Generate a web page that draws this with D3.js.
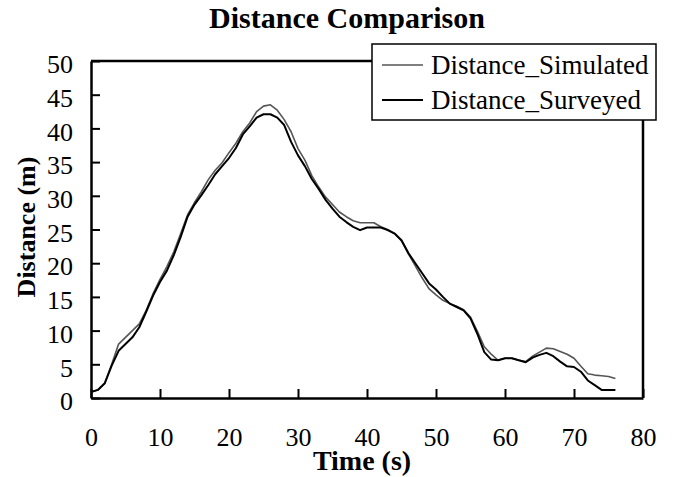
<!DOCTYPE html>
<html>
<head>
<meta charset="utf-8">
<script src="https://cdn.jsdelivr.net/npm/d3@7"></script>
<style>
    body { margin: 0; background: #fff; }
    text { font-family: "Liberation Serif", "Times New Roman", serif; fill: #000; }
</style>
</head>
<body>
<div id="chart"></div>
<script>
// Time in seconds, one sample per second
const times = d3.range(0, 77);

const simulated = [
    0.9, 1.2, 2.2, 5.0, 8.0, 9.0, 10.0, 11.0, 13.0, 15.5,
    17.6, 19.5, 21.7, 24.4, 27.2, 29.0, 30.6, 32.4, 33.8, 34.9,
    36.4, 37.8, 39.5, 40.8, 42.5, 43.3, 43.5, 42.7, 41.3, 39.5,
    37.0, 35.3, 33.0, 31.3, 29.8, 28.7, 27.6, 26.9, 26.3, 26.0,
    26.0, 26.0, 25.4, 25.0, 24.4, 23.3, 21.4, 19.6, 17.8, 16.2,
    15.3, 14.5, 14.0, 13.6, 13.1, 12.0, 9.9, 7.6, 6.5, 5.6,
    5.9, 5.9, 5.6, 5.4, 6.2, 6.8, 7.4, 7.3, 6.9, 6.5,
    5.9, 4.7, 3.6, 3.4, 3.3, 3.2, 2.9
];

const surveyed = [
    0.9, 1.2, 2.2, 4.8, 7.0, 8.0, 9.0, 10.5, 12.8, 15.2,
    17.2, 18.9, 21.2, 23.9, 26.9, 28.7, 30.1, 31.6, 33.2, 34.4,
    35.6, 37.1, 39.1, 40.3, 41.6, 42.1, 42.1, 41.6, 40.5, 38.0,
    36.0, 34.4, 32.5, 31.0, 29.4, 28.1, 26.9, 26.1, 25.4, 24.9,
    25.3, 25.3, 25.3, 24.9, 24.4, 23.4, 21.5, 20.0, 18.5, 17.0,
    16.1, 15.0, 14.0, 13.5, 13.0, 11.8, 9.5, 6.8, 5.7, 5.6,
    5.9, 5.9, 5.6, 5.3, 6.0, 6.4, 6.7, 6.2, 5.4, 4.7,
    4.6, 3.9, 2.6, 1.9, 1.2, 1.2, 1.2
];

const xTicks = [0, 10, 20, 30, 40, 50, 60, 70, 80];
const yTicks = [0, 5, 10, 15, 20, 25, 30, 35, 40, 45, 50];

const seriesNames = ["Distance_Simulated", "Distance_Surveyed"];
const seriesColors = ["#555555", "#000000"];
const seriesWidths = [1.6, 2];

const width = 674;
const height = 477;
const m = { top: 61, right: 31, bottom: 79, left: 91 };

const svg = d3.select("#chart").append("svg")
    .attr("width", width)
    .attr("height", height);

const x = d3.scaleLinear().domain([0, 80]).range([m.left, width - m.right]);
const y = d3.scaleLinear().domain([0, 50]).range([height - m.bottom, m.top]);

// Title
svg.append("text")
    .attr("x", 347)
    .attr("y", 28)
    .attr("text-anchor", "middle")
    .attr("font-size", "30px")
    .attr("font-weight", "bold")
    .text("Distance Comparison");

// Plot frame (top and right edges)
svg.append("path")
    .attr("d", `M${x(0)},${y(50)}H${x(80)}V${y(0)}`)
    .attr("fill", "none")
    .attr("stroke", "#000")
    .attr("stroke-width", 2.5);

// Axes, ticks pointing inward
const xAxis = svg.append("g")
    .attr("transform", `translate(0,${y(0)})`)
    .call(d3.axisBottom(x).tickValues(xTicks).tickSizeInner(-9).tickSizeOuter(0).tickPadding(30));

const yAxis = svg.append("g")
    .attr("transform", `translate(${x(0)},0)`)
    .call(d3.axisLeft(y).tickValues(yTicks).tickSizeInner(-9).tickSizeOuter(0).tickPadding(18));

[xAxis, yAxis].forEach(g => {
    g.select(".domain").attr("stroke-width", 2.5);
    g.selectAll(".tick line").attr("stroke-width", 2);
    g.selectAll(".tick text")
        .attr("font-family", "Liberation Serif, serif")
        .attr("font-size", "26px");
});
yAxis.selectAll(".tick text").attr("dy", "0.45em");

// Axis titles
svg.append("text")
    .attr("x", 362)
    .attr("y", 470)
    .attr("text-anchor", "middle")
    .attr("font-size", "28px")
    .attr("font-weight", "bold")
    .text("Time (s)");

svg.append("text")
    .attr("transform", "translate(26,227) rotate(-90)")
    .attr("dy", "0.35em")
    .attr("text-anchor", "middle")
    .attr("font-size", "26px")
    .attr("font-weight", "bold")
    .text("Distance (m)");

// Lines
const line = d3.line()
    .x((d, i) => x(times[i]))
    .y(d => y(d));

[simulated, surveyed].forEach((vals, i) => {
    svg.append("path")
        .datum(vals)
        .attr("d", line)
        .attr("fill", "none")
        .attr("stroke", seriesColors[i])
        .attr("stroke-width", seriesWidths[i])
        .attr("stroke-linejoin", "round");
});

// Legend
const legend = svg.append("g");
legend.append("rect")
    .attr("x", 372)
    .attr("y", 44)
    .attr("width", 284)
    .attr("height", 76)
    .attr("fill", "#fff")
    .attr("stroke", "#000")
    .attr("stroke-width", 1.5);

seriesNames.forEach((name, i) => {
    const ly = 65 + i * 35;
    legend.append("line")
        .attr("x1", 382).attr("x2", 423)
        .attr("y1", ly).attr("y2", ly)
        .attr("stroke", seriesColors[i])
        .attr("stroke-width", seriesWidths[i]);
    legend.append("text")
        .attr("x", 431)
        .attr("y", ly)
        .attr("dy", "0.35em")
        .attr("font-size", "27px")
        .text(name);
});
</script>
</body>
</html>
